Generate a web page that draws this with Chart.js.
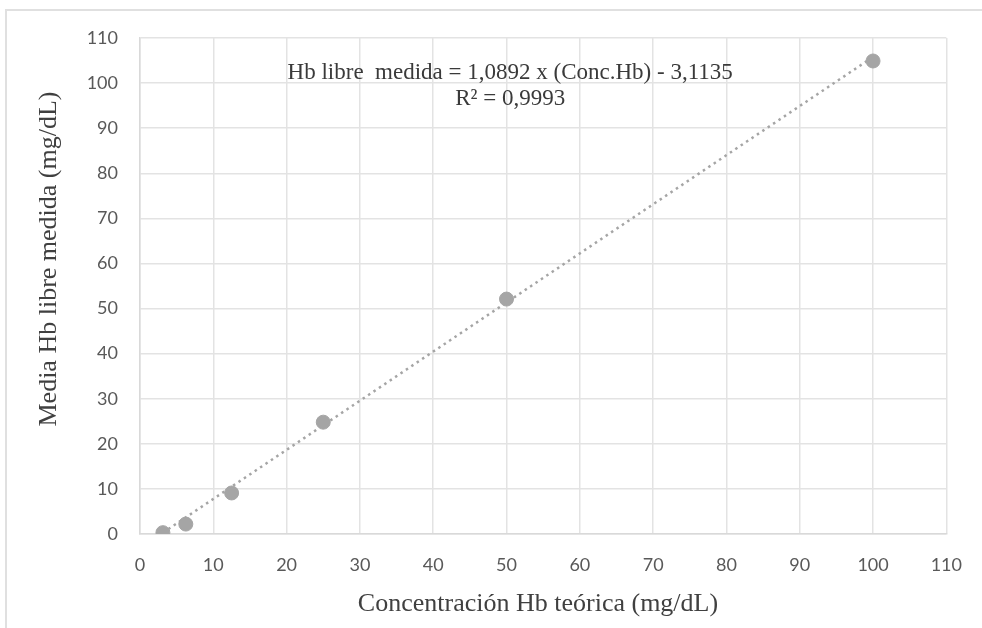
<!DOCTYPE html>
<html>
<head>
<meta charset="utf-8">
<script src="https://cdn.jsdelivr.net/npm/chart.js@4/dist/chart.umd.min.js"></script>
<style>
  html, body { margin: 0; padding: 0; background: #ffffff; }
  #wrap { position: relative; width: 982px; height: 628px; overflow: hidden; }
  #frame { position: absolute; left: 5px; top: 9px; width: 1200px; height: 800px; border-left: 2px solid #e0e0e0; border-top: 2px solid #e0e0e0; box-sizing: border-box; }
  canvas { position: absolute; left: 0; top: 0; }
</style>
</head>
<body>
<div id="wrap">
  <div id="frame"></div>
  <canvas id="c" width="982" height="628"></canvas>
</div>
<script>
// Data
const concTeorica = [3.125, 6.25, 12.5, 25, 50, 100];
const hbMedida = [0.3, 2.2, 9.1, 24.8, 52.1, 104.9];
const trendX = [3.125, 100];
const trendY = [0.29, 105.8];
const axisTicks = [0, 10, 20, 30, 40, 50, 60, 70, 80, 90, 100, 110];
const xTitle = 'Concentración Hb teórica (mg/dL)';
const yTitle = 'Media Hb libre medida (mg/dL)';
const eqLines = ['Hb libre  medida = 1,0892 x (Conc.Hb) - 3,1135', 'R² = 0,9993'];
const eqPos = { x: 50.5, y: [102.2, 96.4] };

const scatterPts = concTeorica.map((x, i) => ({ x: x, y: hbMedida[i] }));
const trendPts = trendX.map((x, i) => ({ x: x, y: trendY[i] }));

const titleFontCss = '26px "Liberation Serif", "Times New Roman", serif';

const textPlugin = {
  id: 'texts',
  afterDraw(chart) {
    const { ctx, scales } = chart;
    ctx.save();
    // regression equation
    ctx.fillStyle = '#3a3a3a';
    ctx.font = '23px "Liberation Serif", "Times New Roman", serif';
    ctx.textAlign = 'center';
    ctx.textBaseline = 'middle';
    eqLines.forEach((t, i) => {
      ctx.fillText(t, scales.x.getPixelForValue(eqPos.x), scales.y.getPixelForValue(eqPos.y[i]));
    });
    // axis titles
    ctx.fillStyle = '#404040';
    ctx.font = titleFontCss;
    ctx.fillText(xTitle, 538, 604);
    ctx.translate(49, 259);
    ctx.rotate(-Math.PI / 2);
    ctx.fillText(yTitle, 0, 0);
    ctx.restore();
  }
};

const tickFont = { family: 'Lato, "Liberation Sans", sans-serif', size: 18 };

new Chart(document.getElementById('c'), {
  type: 'scatter',
  data: {
    datasets: [
      {
        label: 'Tendencia',
        type: 'line',
        data: trendPts,
        borderColor: '#a5a5a5',
        borderWidth: 2.5,
        borderDash: [2.5, 4],
        pointRadius: 0,
        fill: false,
        order: 2
      },
      {
        label: 'Hb medida',
        data: scatterPts,
        backgroundColor: '#a5a5a5',
        borderColor: '#a5a5a5',
        pointRadius: 7,
        pointHoverRadius: 7,
        order: 1
      }
    ]
  },
  options: {
    responsive: false,
    animation: false,
    events: [],
    layout: { padding: { left: 0, right: 35, top: 38, bottom: 0 } },
    plugins: { legend: { display: false }, tooltip: { enabled: false } },
    scales: {
      x: {
        type: 'linear',
        min: 0, max: 110,
        afterBuildTicks(s) { s.ticks = axisTicks.map(v => ({ value: v })); },
        afterFit(s) { s.height = 94; },
        grid: { color: '#e3e3e3', lineWidth: 1.5, drawTicks: false },
        border: { color: '#d9d9d9', width: 1.5 },
        ticks: { color: '#595959', font: tickFont, padding: 20, maxRotation: 0, autoSkip: false },
        title: { display: false, text: xTitle }
      },
      y: {
        type: 'linear',
        min: 0, max: 110,
        afterBuildTicks(s) { s.ticks = axisTicks.map(v => ({ value: v })); },
        afterFit(s) { s.width = 140; },
        grid: { color: '#e3e3e3', lineWidth: 1.5, drawTicks: false },
        border: { color: '#d9d9d9', width: 1.5 },
        ticks: { color: '#595959', font: tickFont, padding: 22, autoSkip: false },
        title: { display: false, text: yTitle }
      }
    }
  },
  plugins: [textPlugin]
});
</script>
</body>
</html>
